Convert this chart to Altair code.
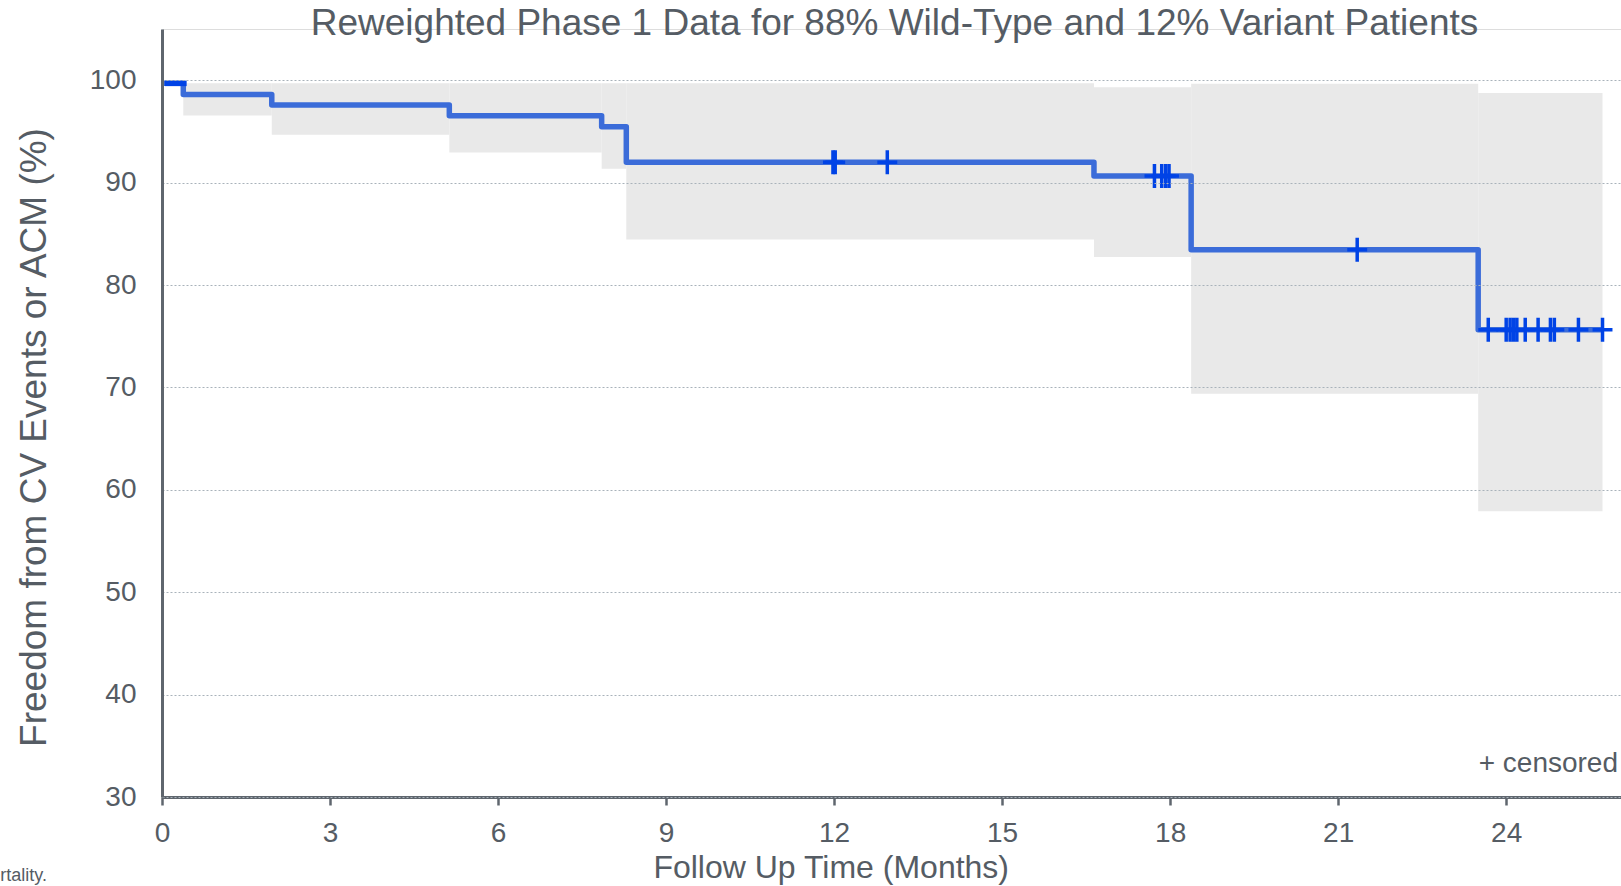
import altair as alt
import pandas as pd

# Kaplan-Meier estimate (step function): months vs. % free from CV events / ACM
km_time = [0.0, 0.38, 1.96, 5.13, 7.85, 8.29, 16.64, 18.375, 23.5, 25.72]
km_surv = [99.69, 98.6, 97.57, 96.52, 95.45, 91.98, 90.65, 83.45, 75.62, 75.62]

# opening segment drawn in the marker colour
first_time = [0.05]
first_end = [0.44]
first_surv = [99.69]

# 95% confidence band, one step per interval
ci_start = [0.38, 1.96, 5.13, 7.85, 8.29, 16.64, 18.375, 23.5]
ci_end = [1.96, 5.13, 7.85, 8.29, 16.64, 18.375, 23.5, 25.72]
ci_lower = [96.55, 94.67, 92.95, 91.36, 84.45, 82.73, 69.37, 57.9]
ci_upper = [99.7, 99.7, 99.7, 99.7, 99.7, 99.3, 99.65, 98.75]

# censored observations
cens_time = [11.98, 12.02, 12.95,
             17.72, 17.85, 17.92, 17.98,
             21.34,
             23.68, 24.0, 24.07, 24.13, 24.19, 24.34, 24.57, 24.79, 24.86, 25.29, 25.72]
cens_surv = [91.98, 91.98, 91.98,
             90.65, 90.65, 90.65, 90.65,
             83.45,
             75.62, 75.62, 75.62, 75.62, 75.62, 75.62, 75.62, 75.62, 75.62, 75.62, 75.62]

x_ticks = [0, 3, 6, 9, 12, 15, 18, 21, 24]
y_ticks = [30, 40, 50, 60, 70, 80, 90, 100]

FONT = "Liberation Sans"
TEXT = "#555c64"
AXIS = "#5f666e"
LINE = "#3b6cd9"
MARK = "#0043e6"
BAND = "#e9e9e9"

km = pd.DataFrame({"t": km_time, "s": km_surv})
first = pd.DataFrame({"t": first_time, "t2": first_end, "s": first_surv})
ci = pd.DataFrame({"t": ci_start, "t2": ci_end, "lo": ci_lower, "hi": ci_upper})
cens = pd.DataFrame({"t": cens_time, "s": cens_surv})

xs = alt.Scale(domain=[0, 26.05], nice=False, zero=False)
ys = alt.Scale(domain=[30, 105], nice=False, zero=False)

x_axis = alt.Axis(
    values=x_ticks, title="Follow Up Time (Months)", grid=False,
    domainColor=AXIS, domainWidth=3, tickColor=AXIS, tickWidth=2.5, tickSize=8,
    labelFont=FONT, labelFontSize=28, labelColor=TEXT, labelPadding=14,
    labelFlush=False, labelOverlap=False,
    titleFont=FONT, titleFontSize=32, titleColor=TEXT, titleFontWeight="normal",
    titleX=668.7, titleY=80, titleAlign="center", titleBaseline="alphabetic",
)
y_axis = alt.Axis(
    values=y_ticks, title="Freedom from CV Events or ACM (%)",
    grid=True, gridColor="#a9b2ba", gridDash=[2, 2], gridWidth=1,
    domainColor=AXIS, domainWidth=3, ticks=False,
    labelFont=FONT, labelFontSize=28, labelColor=TEXT, labelPadding=26,
    labelOverlap=False,
    titleFont=FONT, titleFontSize=37, titleColor=TEXT, titleFontWeight="normal",
    titleX=-117, titleY=408, titleAlign="center", titleBaseline="alphabetic",
    titleAngle=270, zindex=1,
)

band = alt.Chart(ci).mark_rect(color=BAND, opacity=1).encode(
    x=alt.X("t:Q", scale=xs, axis=x_axis),
    x2="t2:Q",
    y=alt.Y("lo:Q", scale=ys, axis=y_axis),
    y2="hi:Q",
)

curve = alt.Chart(km).mark_line(
    interpolate="step-after", color=LINE, strokeWidth=5.5, strokeJoin="round"
).encode(
    x=alt.X("t:Q", scale=xs, axis=x_axis),
    y=alt.Y("s:Q", scale=ys, axis=y_axis),
)

start = alt.Chart(first).mark_rule(color=MARK, strokeWidth=5.5).encode(
    x=alt.X("t:Q", scale=xs, axis=x_axis),
    x2="t2:Q",
    y=alt.Y("s:Q", scale=ys, axis=y_axis),
)

ticks = alt.Chart(cens).mark_point(
    shape="M-0.83,0H0.83M0,-1V1", size=576, filled=False,
    stroke=MARK, strokeWidth=3.5, opacity=1,
).encode(
    x=alt.X("t:Q", scale=xs, axis=x_axis),
    y=alt.Y("s:Q", scale=ys, axis=y_axis),
)

legend_note = alt.Chart(pd.DataFrame({"label": ["+ censored"]})).mark_text(
    font=FONT, fontSize=28, color=TEXT, align="right", baseline="alphabetic"
).encode(x=alt.value(1456), y=alt.value(743), text="label:N")

footnote = alt.Chart(pd.DataFrame({"label": ["ACM = all-cause mortality."]})).mark_text(
    font=FONT, fontSize=18, color=TEXT, align="right", baseline="alphabetic"
).encode(x=alt.value(-115), y=alt.value(852), text="label:N")

chart = alt.layer(band, curve, start, ticks, legend_note, footnote).properties(
    width=1459,
    height=768,
    padding={"left": 162, "top": 29, "right": 0, "bottom": 89},
    autosize=alt.AutoSizeParams(type="none"),
    title=alt.TitleParams(
        "Reweighted Phase 1 Data for 88% Wild-Type and 12% Variant Patients",
        font=FONT, fontSize=37, color=TEXT, fontWeight="normal",
        anchor="middle", frame="group", baseline="alphabetic", offset=0, dy=43, dx=3,
    ),
).configure_view(stroke=None).configure(background="white")

chart.save("out.html", embed_options={"renderer": "svg", "actions": False})
